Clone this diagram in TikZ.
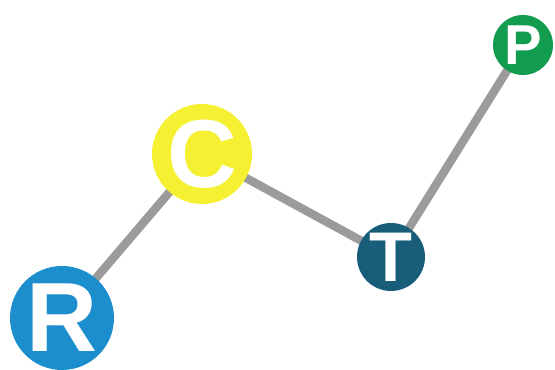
\documentclass[tikz,border=0pt]{standalone}
\usepackage{fontspec}
\setmainfont{Liberation Sans}
\usetikzlibrary{backgrounds}
\definecolor{rblue}{RGB}{28,142,206}
\definecolor{cyellow}{RGB}{246,240,50}
\definecolor{tteal}{RGB}{24,94,122}
\definecolor{pgreen}{RGB}{18,156,80}
\definecolor{linkgray}{RGB}{155,155,155}
\tikzset{
	ball/.style={circle, inner sep=0pt, text=white},
	letter/.style={inner sep=0pt, text=white, font=\bfseries\fontsize{#1}{#1}\selectfont},
	link/.style={line width=4.8pt, linkgray}
}
\begin{document}
\begin{tikzpicture}
			\useasboundingbox (0,0) rectangle (11.1,7.4);
			%Balls
			\node[ball, fill=rblue, minimum size=2.08cm, label={[letter=56]center:R}] (r) at (1.24,1.04) {};
			\node[ball, fill=cyellow, minimum size=2.0cm, label={[letter=55]center:C}] (c) at (4.04,4.32) {};
			\node[ball, fill=tteal, minimum size=1.36cm, label={[letter=40]center:T}] (t) at (7.82,2.26) {};
			\node[ball, fill=pgreen, minimum size=1.2cm, label={[letter=32]center:P}] (p) at (10.46,6.5) {};
			%Links
			\begin{pgfonlayer}{background}
			\draw[link] (r.center) -- (c.center);
			\draw[link] (c.center) -- (t.center);
			\draw[link] (t.center) -- (p.center);
			\end{pgfonlayer}
\end{tikzpicture}
\end{document}
